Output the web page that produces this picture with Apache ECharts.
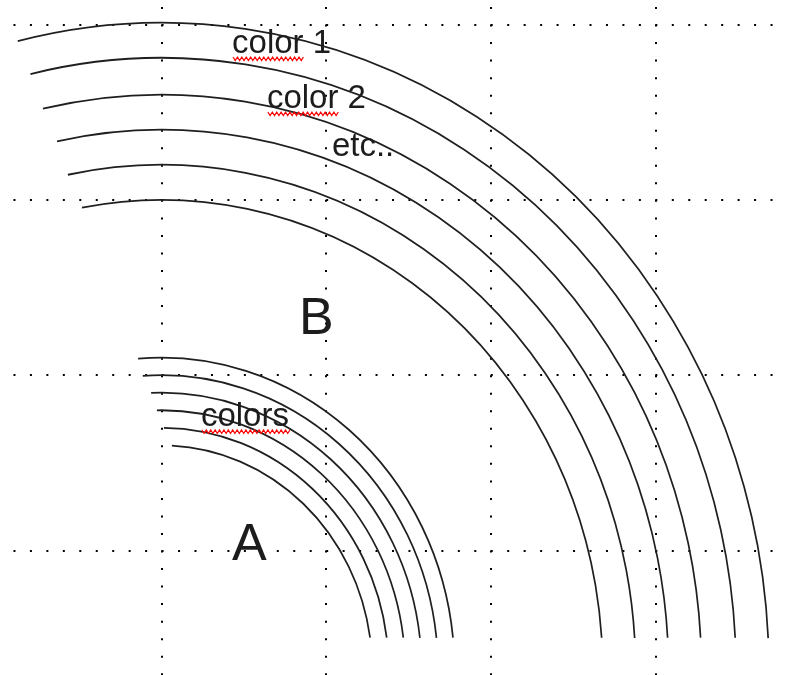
<!DOCTYPE html>
<html>
<head>
<meta charset="utf-8">
<script src="https://cdn.jsdelivr.net/npm/echarts@6/dist/echarts.min.js"></script>
<style>
html,body{margin:0;padding:0;background:#ffffff;}
#chart{width:787px;height:675px;}
</style>
</head>
<body>
<div id="chart"></div>
<script>
// ---- grid (data units: one cell = 1) ----
const xRange = [0, 5];
const yRange = [0, 5];

// ---- arcs: circles in data units around a shared centre ----
const arcCenter = [1.0, 4.68];
const bigArcRadius = [3.69, 3.49, 3.28, 3.08, 2.88, 2.68];
const bigArcStart = [103.7, 103.2, 102.7, 101.9, 101.4, 100.4];
const bigArcEnd = [2.8, 3.0, 3.2, 3.4, 3.6, 3.9];
const smallArcRadius = [1.78, 1.68, 1.58, 1.48, 1.38, 1.28];
const smallArcStart = [94.6, 93.9, 92.3, 91.1, 89.4, 87.2];
const smallArcEnd = [5.9, 6.2, 6.6, 7.1, 7.6, 8.2];

// ---- text annotations (data units) ----
const labelText = ['color 1', 'color 2', 'etc..', 'colors', 'B', 'A'];
const labelX = [1.428, 1.640, 2.035, 1.239, 1.835, 1.428];
const labelY = [1.174, 1.4875, 1.761, 3.301, 2.782, 4.071];
const labelMarked = ['color', 'color', '', 'colors', '', ''];

const labelFontSize = [33, 33, 33, 33, 52, 52];
const fontFamily = '"Liberation Sans", Arial, sans-serif';

const arcData = [];
bigArcRadius.forEach((r, i) => arcData.push([arcCenter[0], arcCenter[1], r, bigArcStart[i], bigArcEnd[i]]));
smallArcRadius.forEach((r, i) => arcData.push([arcCenter[0], arcCenter[1], r, smallArcStart[i], smallArcEnd[i]]));

const labelData = labelText.map((t, i) => [labelX[i], labelY[i]]);

const measureCtx = document.createElement('canvas').getContext('2d');
function textWidth(str, font) {
  measureCtx.font = font;
  return measureCtx.measureText(str).width;
}

function renderArc(params, api) {
  const c = api.coord([api.value(0), api.value(1)]);
  const r = api.value(2);
  const s = api.size([r, r]);
  const rx = s[0], ry = s[1];
  const a0 = api.value(3) * Math.PI / 180;
  const a1 = api.value(4) * Math.PI / 180;
  return {
    type: 'arc',
    x: c[0], y: c[1],
    scaleX: 1, scaleY: ry / rx,
    shape: { cx: 0, cy: 0, r: rx, startAngle: -a0, endAngle: -a1, clockwise: true },
    style: { stroke: '#1f1f1f', lineWidth: 1.7, fill: null },
    silent: true
  };
}

function renderLabel(params, api) {
  const i = params.dataIndex;
  const p = api.coord([api.value(0), api.value(1)]);
  const size = labelFontSize[i];
  const font = size + 'px ' + fontFamily;
  const children = [{
    type: 'text',
    x: p[0],
    y: p[1] - 0.34 * size,
    style: {
      text: labelText[i],
      font: font,
      fill: '#1c1c1c',
      align: 'left', verticalAlign: 'middle',
      textAlign: 'left', textVerticalAlign: 'middle'
    },
    silent: true
  }];
  if (labelMarked[i]) {
    const w = textWidth(labelMarked[i], font);
    const pts = [];
    const x0 = p[0] + 1;
    const yb = p[1] + 2;
    let k = 0;
    for (let x = x0; x <= x0 + w; x += 2.2) {
      pts.push([x, (k % 2 === 0) ? yb : yb + 3.5]);
      k++;
    }
    children.push({
      type: 'polyline',
      shape: { points: pts },
      style: { stroke: '#ff0000', lineWidth: 1.2, fill: null },
      silent: true
    });
  }
  return { type: 'group', children: children };
}

const chart = echarts.init(document.getElementById('chart'), null, { renderer: 'canvas' });

const cellW = 790 / 4.8;      // px per x unit
const cellH = 175.33;         // px per y unit

chart.setOption({
  backgroundColor: '#ffffff',
  animation: false,
  grid: {
    left: -3,
    top: -150.8,
    width: cellW * 5,
    height: cellH * 5,
    outerBoundsMode: 'none',
    containLabel: false
  },
  xAxis: {
    type: 'value',
    min: xRange[0], max: xRange[1], interval: 1,
    axisLine: { show: false }, axisTick: { show: false }, axisLabel: { show: false },
    splitLine: {
      show: true,
      lineStyle: { color: '#000000', width: 2, type: [2, cellH / 10 - 2] }
    }
  },
  yAxis: {
    type: 'value', inverse: true,
    min: yRange[0], max: yRange[1], interval: 1,
    axisLine: { show: false }, axisTick: { show: false }, axisLabel: { show: false },
    splitLine: {
      show: true,
      lineStyle: { color: '#000000', width: 2, type: [2, cellW / 10 - 2] }
    }
  },
  series: [
    {
      type: 'custom',
      name: 'arcs',
      renderItem: renderArc,
      dimensions: ['cx', 'cy', 'r', 'start', 'end'],
      encode: { x: 0, y: 1 },
      data: arcData,
      clip: false,
      silent: true
    },
    {
      type: 'custom',
      name: 'labels',
      renderItem: renderLabel,
      encode: { x: 0, y: 1 },
      data: labelData,
      clip: false,
      silent: true,
      z: 5
    }
  ]
});
</script>
</body>
</html>
